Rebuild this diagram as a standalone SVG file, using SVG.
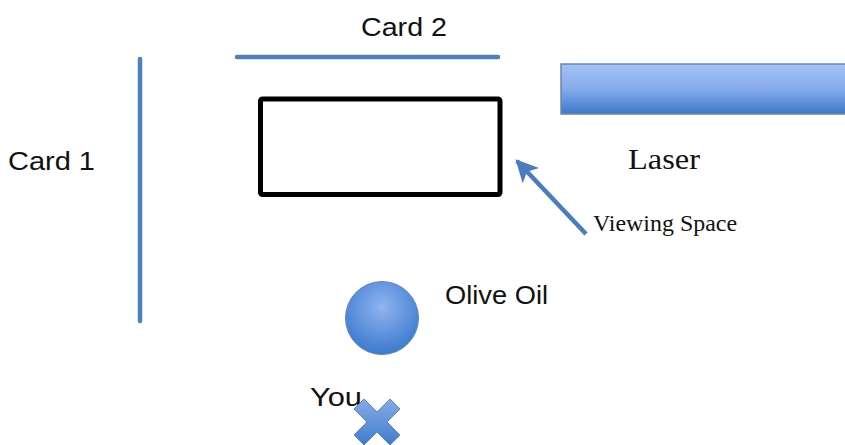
<svg xmlns="http://www.w3.org/2000/svg" width="845" height="445" viewBox="0 0 845 445">
<defs>
<style>
.sans{font-family:"Liberation Sans",Arial,sans-serif;font-size:25px;fill:#111}
.serif{font-family:"Liberation Serif","Times New Roman",serif;fill:#111}
.card{stroke:#4f7fbf;stroke-width:4.5;stroke-linecap:round}
</style>
<linearGradient id="laserG" x1="0" y1="0" x2="0" y2="1">
<stop offset="0" stop-color="#a3c2fa"/>
<stop offset="0.5" stop-color="#86aae9"/>
<stop offset="1" stop-color="#3b79cc"/>
</linearGradient>
<radialGradient id="ballG" cx="0.5" cy="0.35" r="0.65">
<stop offset="0" stop-color="#8fb4f2"/>
<stop offset="1" stop-color="#3c79cc"/>
</radialGradient>
<linearGradient id="xG" x1="0" y1="0" x2="0" y2="1">
<stop offset="0" stop-color="#86aae9"/>
<stop offset="1" stop-color="#3f7ccb"/>
</linearGradient>
<marker id="arr" viewBox="0 0 10 10" refX="9" refY="5" markerWidth="5" markerHeight="5" orient="auto-start-reverse">
<path d="M0,0 L10,5 L0,10 L2.5,5 z" fill="#4a7cc0"/>
</marker>
</defs>
<g id="card2">
<line class="card" x1="237" y1="57" x2="498" y2="57"/>
<text class="sans" x="361" y="36" textLength="86" lengthAdjust="spacingAndGlyphs">Card 2</text>
</g>
<g id="card1">
<line class="card" x1="140" y1="59" x2="140" y2="321"/>
<text class="sans" x="8" y="170" textLength="87" lengthAdjust="spacingAndGlyphs">Card 1</text>
</g>
<g id="viewing-box">
<rect x="260.5" y="99" width="239.5" height="95.5" fill="none" stroke="#000" stroke-width="5" rx="2"/>
</g>
<g id="laser">
<rect x="561" y="64" width="290" height="50" fill="url(#laserG)" stroke="#6b86ab" stroke-width="1.5"/>
<text class="serif" x="628" y="169" font-size="29" textLength="72" lengthAdjust="spacingAndGlyphs">Laser</text>
</g>
<g id="viewing-label">
<text class="serif" x="593" y="231" font-size="24" textLength="144" lengthAdjust="spacingAndGlyphs">Viewing Space</text>
</g>
<g id="olive-oil">
<circle cx="382" cy="318" r="36.5" fill="url(#ballG)" stroke="#5b88c8" stroke-width="1"/>
<text class="sans" x="445" y="304" textLength="103" lengthAdjust="spacingAndGlyphs">Olive Oil</text>
</g>
<g id="you">
<text class="sans" x="310" y="406" textLength="52" lengthAdjust="spacingAndGlyphs">You</text>
<path d="M354,409 L364,399 L377,412 L390,399 L400,409 L387,422 L400,435 L390,445 L377,432 L364,445 L354,435 L367,422 Z" fill="url(#xG)" stroke="#5b88c8" stroke-width="1" stroke-linejoin="round"/>
</g>
<g id="connectors">
<line x1="586" y1="234" x2="517" y2="161" stroke="#4a7cc0" stroke-width="4.5" marker-end="url(#arr)"/>
</g>
</svg>
